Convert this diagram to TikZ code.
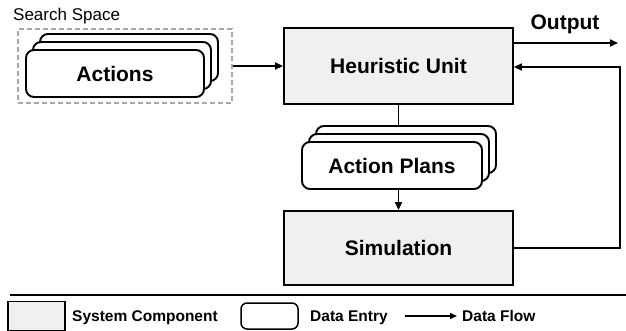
\documentclass[tikz,border=0pt]{standalone}
\usepackage{fontspec}
\setmainfont{Liberation Sans}
\usetikzlibrary{arrows.meta}
\definecolor{compfill}{HTML}{F0F0F0}
\definecolor{dashgray}{HTML}{A8A8A8}
\tikzset{
  comp/.style={draw=black, fill=compfill, line width=1.9pt, minimum width=229pt, minimum height=76pt, font=\bfseries\fontsize{21}{24}\selectfont, inner sep=0pt},
  entry/.style={draw=black, fill=white, line width=1.9pt, rounded corners=8pt, minimum width=178pt, minimum height=47pt, inner sep=0pt, font=\bfseries\fontsize{21}{24}\selectfont},
  flow/.style={line width=1.9pt, -{Triangle[length=8pt,width=7pt]}},
  plain/.style={line width=1.9pt},
  legtext/.style={anchor=base west, font=\bfseries\fontsize{15.5}{18}\selectfont, inner sep=0pt},
}
\begin{document}
\begin{tikzpicture}[x=1pt,y=-1pt]
\useasboundingbox (0,0) rectangle (626,331);
% search space
\node[draw=dashgray, dash pattern=on 5pt off 3pt, line width=1.5pt, minimum width=214pt, minimum height=74pt, inner sep=0pt] (ss) at (125,66) {};
\node[anchor=west, font=\fontsize{17}{20}\selectfont, inner sep=0pt] (sslabel) at (13,16) {Search Space};
\node[entry] (a3) at (129,57.5) {};
\node[entry] (a2) at (122,65.5) {};
\node[entry] (a1) at (115,73.5) {Actions};
% heuristic and simulation
\node[comp] (hu) at (398.5,66) {Heuristic Unit};
\node[comp, minimum height=74pt] (sim) at (398.5,248) {Simulation};
% action plans
\node[entry, minimum width=180pt] (p3) at (406,149.5) {};
\node[entry, minimum width=180pt] (p2) at (399,157.5) {};
\node[entry, minimum width=180pt] (p1) at (392,165.5) {Action Plans};
% connectors
\draw[flow] (ss.east) -- (hu.west);
\draw[plain] (hu.south) -- (hu.south |- p3.north);
\draw[flow] (hu.south |- p1.south) -- (sim.north);
\coordinate (outend) at (618,43);
\draw[flow] (hu.east |- outend) -- (outend);
\node[font=\bfseries\fontsize{21}{24}\selectfont, inner sep=0pt] (outlabel) at (565,24) {Output};
\coordinate (fbcorner) at (620,67);
\draw[flow] (sim.east) -| (fbcorner) -- (hu.east |- fbcorner);
% legend
\coordinate (sepL) at (10,295);
\coordinate (sepR) at (626,295);
\draw[line width=2pt] (sepL) -- (sepR);
\node[draw=black, fill=compfill, line width=1.5pt, minimum width=57pt, minimum height=29pt, inner sep=0pt] (lcomp) at (36.5,316) {};
\node[legtext] (lcompt) at (72,321.5) {System Component};
\node[draw=black, fill=white, line width=1.5pt, rounded corners=6pt, minimum width=57pt, minimum height=26pt, inner sep=0pt] (lentry) at (269.5,316) {};
\node[legtext] (lentryt) at (310,321.5) {Data Entry};
\coordinate (lfs) at (405,316);
\coordinate (lfe) at (457,316);
\node[legtext] (lflowt) at (462,321.5) {Data Flow};
\draw[line width=1.5pt, -{Triangle[length=7pt,width=6pt]}] (lfs) -- (lfe);
\end{tikzpicture}
\end{document}
